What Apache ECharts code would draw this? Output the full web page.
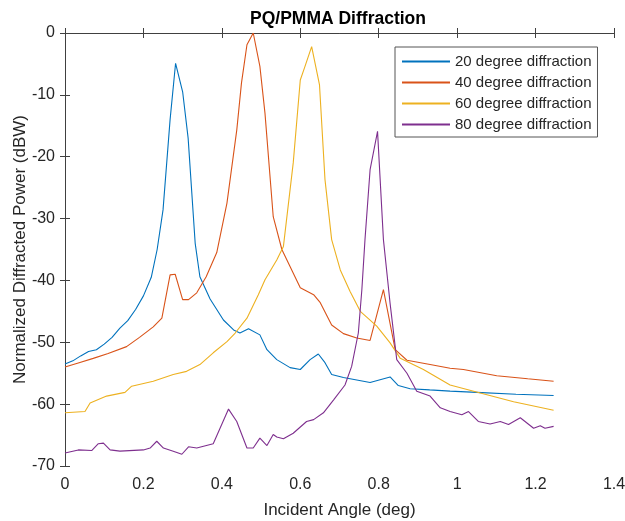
<!DOCTYPE html>
<html>
<head>
<meta charset="utf-8">
<script src="https://cdn.jsdelivr.net/npm/echarts@6/dist/echarts.min.js"></script>
<style>html,body{margin:0;padding:0;background:#fff}#c{width:625px;height:521px}</style>
</head>
<body>
<div id="c"></div>
<script>
// ---- data ----
const seriesNames = ['20 degree diffraction', '40 degree diffraction', '60 degree diffraction', '80 degree diffraction'];
const xTicks = [0, 0.2, 0.4, 0.6, 0.8, 1, 1.2, 1.4];
const yTicks = [-70, -60, -50, -40, -30, -20, -10, 0];

const angle20 = [0, 0.02, 0.04, 0.06, 0.08, 0.1, 0.12, 0.14, 0.16, 0.18, 0.2, 0.22, 0.235, 0.25, 0.268, 0.282, 0.3, 0.314, 0.332, 0.344, 0.37, 0.404, 0.43, 0.446, 0.468, 0.497, 0.515, 0.54, 0.574, 0.6, 0.625, 0.646, 0.663, 0.68, 0.71, 0.778, 0.829, 0.85, 0.88, 0.93, 0.982, 1.05, 1.15, 1.246];
const power20 = [-53.5, -53.0, -52.2, -51.5, -51.2, -50.3, -49.2, -47.7, -46.5, -44.7, -42.5, -39.5, -35.0, -28.6, -14.0, -4.9, -9.5, -17.0, -34.0, -39.4, -43.0, -46.4, -48.0, -48.5, -47.8, -48.8, -51.2, -52.8, -54.1, -54.4, -52.8, -51.9, -53.3, -55.2, -55.7, -56.5, -55.6, -57.0, -57.5, -57.7, -57.9, -58.1, -58.4, -58.6];

const angle40 = [0, 0.036, 0.072, 0.11, 0.157, 0.19, 0.225, 0.247, 0.268, 0.281, 0.3, 0.315, 0.336, 0.36, 0.387, 0.413, 0.438, 0.45, 0.464, 0.48, 0.497, 0.51, 0.531, 0.553, 0.6, 0.634, 0.651, 0.68, 0.71, 0.744, 0.778, 0.812, 0.842, 0.872, 0.931, 0.982, 1.016, 1.101, 1.18, 1.246];
const power40 = [-54.0, -53.3, -52.6, -51.8, -50.7, -49.2, -47.5, -46.1, -39.1, -39.0, -43.1, -43.1, -42.0, -39.4, -35.5, -27.5, -15.7, -8.1, -1.9, 0, -5.4, -13.0, -29.7, -35.0, -41.2, -42.3, -43.6, -47.2, -48.6, -49.3, -49.7, -41.5, -51.2, -52.9, -53.6, -54.2, -54.4, -55.4, -55.9, -56.3];

const angle60 = [0, 0.051, 0.064, 0.106, 0.153, 0.17, 0.225, 0.276, 0.31, 0.344, 0.378, 0.413, 0.434, 0.464, 0.493, 0.51, 0.54, 0.557, 0.582, 0.6, 0.612, 0.629, 0.649, 0.663, 0.68, 0.702, 0.727, 0.753, 0.795, 0.829, 0.855, 0.914, 0.982, 1.059, 1.144, 1.246];
const power60 = [-61.4, -61.2, -59.8, -58.7, -58.1, -57.1, -56.3, -55.2, -54.7, -53.6, -51.7, -49.9, -48.5, -46.1, -42.3, -39.9, -36.7, -34.5, -21.0, -7.6, -5.4, -2.2, -8.4, -23.7, -33.4, -38.3, -41.8, -45.0, -47.4, -50.1, -52.6, -54.4, -56.9, -58.2, -59.6, -61.0];

const angle80 = [0, 0.034, 0.068, 0.085, 0.098, 0.115, 0.14, 0.2, 0.217, 0.234, 0.251, 0.276, 0.298, 0.315, 0.336, 0.378, 0.417, 0.438, 0.464, 0.48, 0.497, 0.515, 0.531, 0.54, 0.557, 0.582, 0.616, 0.634, 0.659, 0.685, 0.714, 0.731, 0.748, 0.757, 0.765, 0.778, 0.797, 0.812, 0.829, 0.846, 0.872, 0.897, 0.931, 0.957, 0.982, 1.012, 1.029, 1.054, 1.084, 1.11, 1.131, 1.161, 1.195, 1.212, 1.224, 1.246];
const power80 = [-67.9, -67.4, -67.5, -66.4, -66.3, -67.4, -67.6, -67.4, -67.1, -66.0, -67.1, -67.6, -68.1, -66.9, -67.1, -66.4, -60.8, -62.8, -67.1, -67.1, -65.5, -66.7, -64.9, -65.3, -65.6, -64.7, -62.8, -62.5, -61.4, -59.3, -56.9, -53.9, -48.5, -41.5, -33.4, -22.1, -15.9, -33.4, -43.7, -52.8, -55.0, -57.9, -58.7, -60.6, -61.2, -61.7, -61.2, -62.8, -63.2, -62.8, -63.3, -62.2, -63.9, -63.5, -63.9, -63.6];

// ---- build chart ----
const FONT = "'Liberation Sans', Arial, sans-serif";
const colors = ['#0072BD', '#D95319', '#EDB120', '#7E2F8E'];
const angles = [angle20, angle40, angle60, angle80];
const powers = [power20, power40, power60, power80];
const zip = (a, b) => a.map((v, i) => [v, b[i]]);

const axisLineColor = '#404040';
const textColor = '#262626';
const fmtX = v => String(+(+v).toFixed(1));

const chart = echarts.init(document.getElementById('c'), null, { renderer: 'canvas' });
chart.setOption({
  animation: false,
  backgroundColor: '#ffffff',
  color: colors,
  title: {
    text: 'PQ/PMMA Diffraction',
    left: 250, top: 10, padding: 0,
    textStyle: { fontFamily: FONT, fontSize: 17.5, fontWeight: 'bold', color: '#000' }
  },
  grid: { left: 65, right: 11, top: 33, bottom: 55, containLabel: false, outerBoundsMode: 'none' },
  legend: {
    orient: 'vertical',
    left: 395, top: 47,
    padding: [7, 6, 5, 6],
    itemWidth: 48, itemHeight: 14, itemGap: 6,
    icon: 'inherit',
    itemStyle: { opacity: 0 },
    backgroundColor: '#fff',
    borderColor: '#555', borderWidth: 1,
    data: seriesNames,
    textStyle: { fontFamily: FONT, fontSize: 15, color: textColor, lineHeight: 14 }
  },
  xAxis: [
    {
      type: 'value', position: 'bottom', min: 0, max: 1.4, interval: 0.2,
      name: 'Incident Angle (deg)', nameLocation: 'middle', nameGap: 36, nameMoveOverlap: false,
      nameTextStyle: { fontFamily: FONT, fontSize: 17, color: textColor },
      axisLine: { show: true, lineStyle: { color: axisLineColor, width: 1 } },
      axisTick: { show: true, inside: true, length: 5, lineStyle: { color: axisLineColor } },
      axisLabel: { fontFamily: FONT, fontSize: 16, color: textColor, margin: 11, formatter: fmtX },
      splitLine: { show: false }
    },
    {
      type: 'value', position: 'top', min: 0, max: 1.4, interval: 0.2,
      axisLine: { show: true, lineStyle: { color: axisLineColor, width: 1 } },
      axisTick: { show: true, inside: true, length: 5, lineStyle: { color: axisLineColor } },
      axisLabel: { show: false }, splitLine: { show: false }
    }
  ],
  yAxis: [
    {
      type: 'value', position: 'left', min: -70, max: 0, interval: 10,
      name: 'Normalized Diffracted Power (dBW)', nameLocation: 'middle', nameGap: 36, nameMoveOverlap: false,
      nameTextStyle: { fontFamily: FONT, fontSize: 17, color: textColor },
      axisLine: { show: true, lineStyle: { color: axisLineColor, width: 1 } },
      axisTick: { show: true, inside: true, length: 5, lineStyle: { color: axisLineColor } },
      axisLabel: { fontFamily: FONT, fontSize: 16, color: textColor, margin: 10 },
      splitLine: { show: false }
    },
    {
      type: 'value', position: 'right', min: -70, max: 0, interval: 10,
      axisLine: { show: true, lineStyle: { color: axisLineColor, width: 1 } },
      axisTick: { show: true, inside: true, length: 5, lineStyle: { color: axisLineColor } },
      axisLabel: { show: false }, splitLine: { show: false }
    }
  ],
  series: seriesNames.map((name, i) => ({
    name,
    type: 'line',
    xAxisIndex: 0, yAxisIndex: 0,
    data: zip(angles[i], powers[i]),
    symbol: 'none',
    smooth: false,
    lineStyle: { width: 1.1, color: colors[i] },
    itemStyle: { color: colors[i] },
    z: 2 + i
  }))
});
</script>
</body>
</html>
